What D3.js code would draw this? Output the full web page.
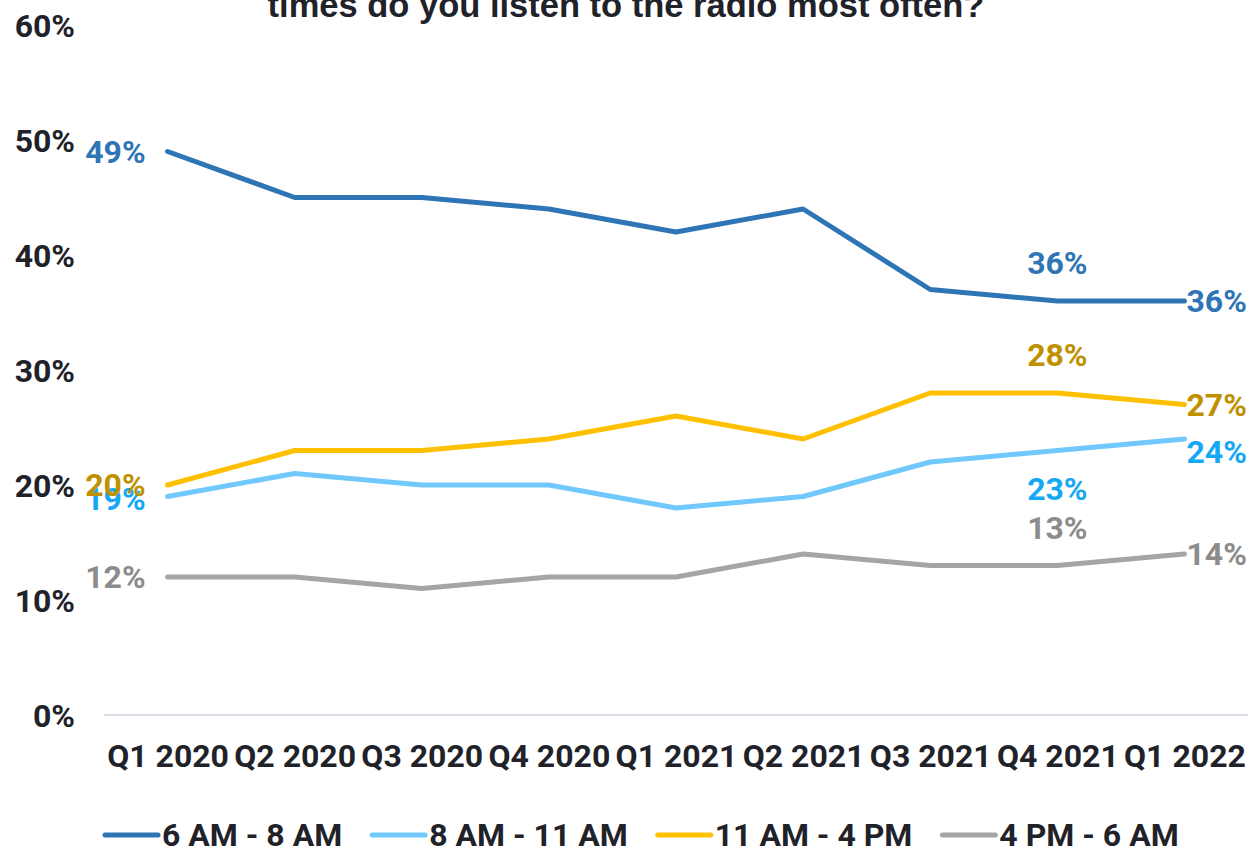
<!DOCTYPE html>
<html>
<head>
<meta charset="utf-8">
<script src="https://cdn.jsdelivr.net/npm/d3@7"></script>
<style>
  html, body { margin: 0; padding: 0; background: #fff; }
  svg { display: block; font-family: Roboto, "Noto Sans", sans-serif; }
</style>
</head>
<body>
<svg id="chart" width="1250" height="849"></svg>
<script>
// Quarterly survey results: share of listeners by time slot
const quarters = ["Q1 2020", "Q2 2020", "Q3 2020", "Q4 2020", "Q1 2021", "Q2 2021", "Q3 2021", "Q4 2021", "Q1 2022"];
const seriesNames = ["6 AM - 8 AM", "8 AM - 11 AM", "11 AM - 4 PM", "4 PM - 6 AM"];
const earlyMorning = [49, 45, 45, 44, 42, 44, 37, 36, 36];
const lateMorning = [19, 21, 20, 20, 18, 19, 22, 23, 24];
const midday = [20, 23, 23, 24, 26, 24, 28, 28, 27];
const eveningNight = [12, 12, 11, 12, 12, 14, 13, 13, 14];
const yTicks = [0, 10, 20, 30, 40, 50, 60];
const titleLine = "times do you listen to the radio most often?";

const lineColors = ["#2E75B6", "#70C8FC", "#FFC000", "#A5A5A5"];
const labelColors = ["#2E75B6", "#16A8F4", "#BF9000", "#8C8C8C"];
// Which points carry a value label, and where it sits relative to the point
const labelSpots = [
  [{i: 0, pos: "left"}, {i: 7, pos: "above"}, {i: 8, pos: "right"}],
  [{i: 0, pos: "left", dy: 2}, {i: 7, pos: "below"}, {i: 8, pos: "rightBelow"}],
  [{i: 0, pos: "left"}, {i: 7, pos: "above"}, {i: 8, pos: "right"}],
  [{i: 0, pos: "left"}, {i: 7, pos: "above"}, {i: 8, pos: "right"}]
];

const series = [earlyMorning, lateMorning, midday, eveningNight].map((v, k) => ({
  name: seriesNames[k], values: v, color: lineColors[k], labelColor: labelColors[k], spots: labelSpots[k]
}));

const svg = d3.select("#chart");
const fontSize = 32;

const x = d3.scalePoint().domain(quarters).range([104, 1248]).padding(0.5);
const y = d3.scaleLinear().domain([0, 60]).range([715, 25]);

// Title (second line of a wrapped heading at the top edge)
svg.append("text")
  .attr("x", 626).attr("y", 17)
  .attr("text-anchor", "middle")
  .attr("font-family", "'Liberation Sans Narrow', 'Liberation Sans', sans-serif")
  .attr("font-weight", "bold")
  .attr("font-size", 34.5)
  .attr("fill", "#1F2329")
  .text(titleLine);

// Baseline
svg.append("line")
  .attr("x1", 104).attr("x2", 1248)
  .attr("y1", y(0)).attr("y2", y(0))
  .attr("stroke", "#D9DEE8").attr("stroke-width", 2);

// Y axis labels
const yAxis = d3.axisLeft(y).tickValues(yTicks).tickFormat(d => d + "%").tickSize(0).tickPadding(0);
const yg = svg.append("g").attr("transform", "translate(75,0)").call(yAxis);
yg.select(".domain").remove();
yg.selectAll("text")
  .attr("font-family", "Roboto, sans-serif")
  .attr("font-size", fontSize).attr("font-weight", "bold").attr("fill", "#1F2329")
  .attr("dy", "0.35em");

// X axis labels
const xAxis = d3.axisBottom(x).tickSize(0).tickPadding(0);
const xg = svg.append("g").attr("transform", "translate(0,767)").call(xAxis);
xg.select(".domain").remove();
xg.selectAll("text")
  .attr("font-family", "Roboto, sans-serif")
  .attr("font-size", fontSize).attr("font-weight", "bold").attr("fill", "#1F2329")
  .attr("dy", 0);

// Lines
const line = d3.line().x((d, i) => x(quarters[i])).y(d => y(d));
svg.append("g").selectAll("path").data(series).join("path")
  .attr("d", d => line(d.values))
  .attr("fill", "none")
  .attr("stroke", d => d.color)
  .attr("stroke-width", 5)
  .attr("stroke-linecap", "round")
  .attr("stroke-linejoin", "round");

// Value labels
const lg = svg.append("g");
series.forEach(s => {
  s.spots.forEach(sp => {
    const px = x(quarters[sp.i]);
    const py = y(s.values[sp.i]);
    let tx = px, ty = py, anchor = "middle";
    if (sp.pos === "left") { tx = px - 22; anchor = "end"; ty = py + (sp.dy || 0); }
    if (sp.pos === "right") { tx = px + 2; anchor = "start"; }
    if (sp.pos === "rightBelow") { tx = px + 2; anchor = "start"; ty = py + 13; }
    if (sp.pos === "above") { ty = py - 38; }
    if (sp.pos === "below") { ty = py + 38; }
    lg.append("text")
      .attr("x", tx).attr("y", ty)
      .attr("dy", "0.35em")
      .attr("text-anchor", anchor)
      .attr("font-size", fontSize).attr("font-weight", "bold")
      .attr("fill", s.labelColor)
      .text(s.values[sp.i] + "%");
  });
});

// Legend
const legend = svg.append("g").attr("transform", "translate(0,835)");
let cursor = 103;
series.forEach(s => {
  legend.append("line")
    .attr("x1", cursor + 2).attr("x2", cursor + 55)
    .attr("y1", 0).attr("y2", 0)
    .attr("stroke", s.color).attr("stroke-width", 5).attr("stroke-linecap", "round");
  const t = legend.append("text")
    .attr("x", cursor + 59).attr("y", 11)
    .attr("font-size", fontSize).attr("font-weight", "bold").attr("fill", "#1F2329")
    .text(s.name);
  cursor += 59 + t.node().getComputedTextLength() + 28;
});
</script>
</body>
</html>
